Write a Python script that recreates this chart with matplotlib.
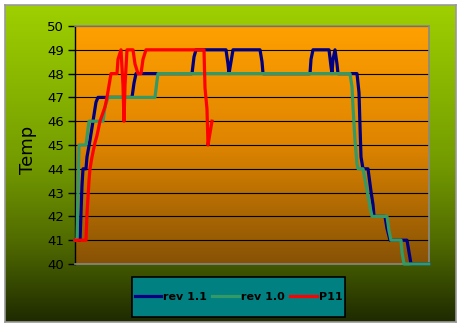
import numpy as np
import matplotlib
matplotlib.use('Agg')
import matplotlib.pyplot as plt
from matplotlib.colors import LinearSegmentedColormap
from matplotlib.patches import Rectangle

# sample index vs temperature
time_rev11 = [0, 2.5, 3.5, 4, 5.5, 6, 7.5, 9, 10.5, 11.5, 28.5, 29.5, 30.5, 58.5, 59.5, 60.5,
              75.5, 76.5, 77, 78, 79, 92.5, 93.5, 94, 117.5, 118, 119, 127, 128, 128.5, 129,
              130, 131, 131.5, 141, 142, 142.5, 143, 144, 146.5, 148, 149, 149.5, 155, 156,
              157.5, 166, 167, 168, 177]
temp_rev11 = [41, 41, 43.3, 44, 44, 44.5, 45.2, 46, 46.8, 47, 47, 47.6, 48, 48, 48.7, 49,
              49, 48.4, 48, 48.5, 49, 49, 48.5, 48, 48, 48.6, 49, 49, 48.3, 48, 48.6,
              49, 48.4, 48, 48, 47.2, 45.8, 44.5, 44, 44, 43.05, 42.5, 42, 42, 41.5,
              41, 41, 40.5, 40, 40]

time_rev10 = [0, 1, 1.5, 2, 5.5, 7, 14, 15, 16.5, 40, 41, 41.5, 137.5, 138.5, 139, 140, 141,
              141.5, 144, 146, 147.5, 148.5, 156, 157, 158, 163, 163.5, 164.5, 177]
temp_rev10 = [41, 41, 43, 45, 45, 46, 46, 46.6, 47, 47, 47.7, 48, 48, 47.45, 46.6, 45.2, 44.2,
              44, 44, 43.1, 42.4, 42, 42, 41.4, 41, 41, 40.5, 40, 40]

time_p11 = [0, 5.5, 6, 7, 7.5, 8.5, 10, 11, 12.5, 15, 16, 17, 18, 21, 21.5, 23, 24, 24.5,
            25, 26, 29, 30, 31.5, 33, 34, 35.5, 64.5, 65, 66, 66.5, 67.5, 68.5]
temp_p11 = [41, 41, 42.1, 43.5, 44, 44.5, 45.1, 45.4, 46, 46.6, 47, 47.5, 48, 48, 48.6, 49,
            47.5, 46, 47.5, 49, 49, 48.4, 48, 48, 48.6, 49, 49, 47.4, 46.5, 45, 45.5, 46]

series_names = ['rev 1.1', 'rev 1.0', 'P11']
series_colors = ['#000080', '#339966', '#ff0000']
y_ticks = list(range(40, 51))

W, H = 462, 327
fig = plt.figure(figsize=(W / 100, H / 100), dpi=100)
fig.patch.set_facecolor('white')

# outer green gradient panel
bg = fig.add_axes([5 / W, 5 / H, 451 / W, 317 / H], zorder=-1)
green = LinearSegmentedColormap.from_list('g', [(0, (158/255, 208/255, 0)),
                                                (0.5, (115/255, 155/255, 0)),
                                                (0.75, (80/255, 106/255, 0)),
                                                (1, (30/255, 42/255, 0))])
bg.imshow(np.linspace(0, 1, 256).reshape(-1, 1), aspect='auto', cmap=green,
          extent=[0, 1, 0, 1], origin='upper')
bg.set_xticks([])
bg.set_yticks([])
for s in bg.spines.values():
    s.set_color('#999999')
    s.set_linewidth(1.2)

# plot area
ax = fig.add_axes([75 / W, 63 / H, 354 / W, 238 / H], zorder=0)
orange = LinearSegmentedColormap.from_list('o', [(0, (255/255, 160/255, 0)),
                                                 (0.5, (222/255, 132/255, 0)),
                                                 (0.9, (152/255, 92/255, 4/255)),
                                                 (1, (135/255, 82/255, 6/255))])
ax.imshow(np.linspace(0, 1, 256).reshape(-1, 1), aspect='auto', cmap=orange,
          extent=[0, 1, 0, 1], origin='upper', transform=ax.transAxes, zorder=0)

lines = []
for t, v, name, c in zip([time_rev11, time_rev10, time_p11],
                         [temp_rev11, temp_rev10, temp_p11],
                         series_names, series_colors):
    ln, = ax.plot(t, v, color=c, lw=2.3, label=name, zorder=3, clip_on=False)
    lines.append(ln)

ax.set_xlim(0, 177)
ax.set_ylim(40, 50)
ax.set_yticks(y_ticks)
ax.set_xticks([])
ax.yaxis.grid(True, color='black', lw=0.8)
ax.set_axisbelow(True)
for lab in ax.get_yticklabels():
    lab.set_family('DejaVu Sans')
    lab.set_fontsize(9.5)
ax.tick_params(axis='y', direction='out', length=5, width=1, pad=3, colors='black')
for side in ['top', 'right', 'bottom']:
    ax.spines[side].set_color('#888888')
    ax.spines[side].set_linewidth(1.2)
ax.spines['left'].set_color('black')
ax.spines['left'].set_linewidth(1)

fig.text(28 / W, 1 - 150 / H, 'Temp', rotation=90, ha='center', va='center',
         fontsize=13, family='DejaVu Sans')

# legend box
fig.patches.append(Rectangle((132 / W, 1 - 317 / H), 213 / W, 40 / H,
                             transform=fig.transFigure, fc='#008080', ec='black',
                             lw=1.2, zorder=2))
fig.legend(lines, series_names, loc='center', ncol=3, frameon=False,
           bbox_to_anchor=(238.5 / W, 1 - 297 / H),
           prop=dict(family='DejaVu Sans', weight='bold', size=8),
           handlelength=2.4, handletextpad=0.2, columnspacing=0.45)

fig.savefig('out.png', dpi=100)
